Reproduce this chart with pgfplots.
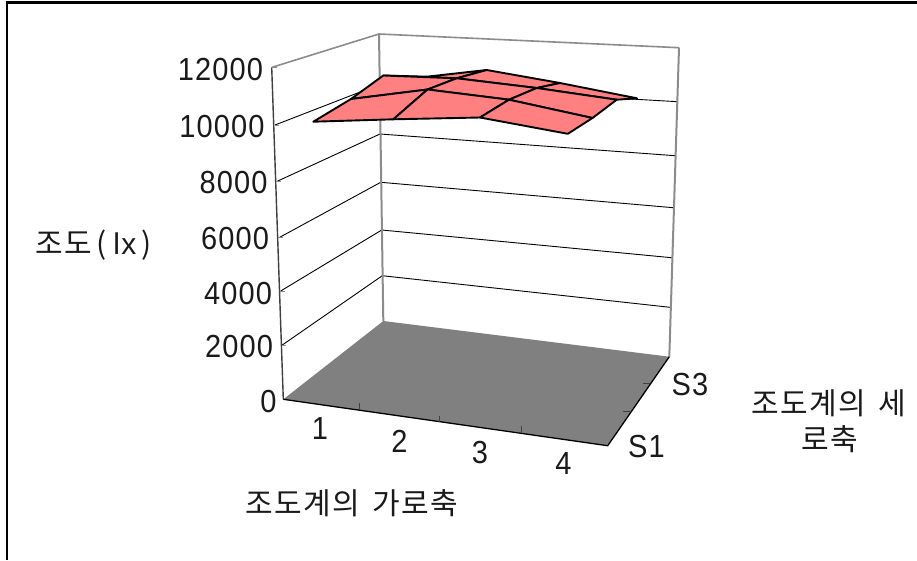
\documentclass[border=0pt]{standalone}
\usepackage{graphicx}
\usepackage{pgfplots}
\pgfplotsset{compat=1.18}
\usepackage{fontspec}
\setmainfont{Liberation Sans}
\newfontfamily\numfont[LetterSpace=4]{Liberation Sans}
\newfontfamily\krfont[LetterSpace=5]{Noto Sans CJK KR}
\newcommand{\tall}[1]{\scalebox{1}[1.1]{#1}}
\definecolor{surf}{HTML}{FF8080}
\definecolor{floorgray}{HTML}{808080}
\definecolor{wallgray}{HTML}{8C8C8C}
\definecolor{axisdark}{HTML}{404040}
\definecolor{inktext}{HTML}{1A1A1A}
\tikzset{
  num/.style={font=\fontsize{29}{29}\selectfont\numfont,text=inktext,inner sep=0pt,anchor=center},
  kr/.style={font=\fontsize{30}{30}\selectfont\krfont,text=inktext,inner sep=0pt,anchor=center},
}
\begin{document}
\begin{tikzpicture}
\begin{axis}[
  scale only axis, width=917pt, height=560pt,
  xmin=0, xmax=917, ymin=0, ymax=560, y dir=reverse,
  hide axis, clip=true,
]
% page and frame
\addplot[draw=none, fill=white] coordinates {(0,0) (917,0) (917,560) (0,560)} -- cycle;
\addplot[black, line width=2.4pt] coordinates {(7,560) (7,2.6) (917,2.6)};

% walls: grid lines on the side wall and on the back wall
\addplot[black, line width=0.9pt] coordinates {(275,125) (379.5,84.5) (677.7,101.7)};
\addplot[black, line width=0.9pt] coordinates {(276.7,181.5) (380,134) (675,155.7)};
\addplot[black, line width=0.9pt] coordinates {(279,237.7) (380.7,182.3) (673.3,207.7)};
\addplot[black, line width=0.9pt] coordinates {(280.7,291) (381.7,230) (671.7,257.7)};
\addplot[black, line width=0.9pt] coordinates {(282.3,345) (382.3,275.7) (670,307.3)};

% wall outline
\addplot[wallgray, line width=1.6pt] coordinates {(272,67.3) (379,34) (679,47.7)};
\addplot[wallgray, line width=2pt] coordinates {(379,34) (383.3,321)};
\addplot[wallgray, line width=2pt] coordinates {(679,47.7) (669.3,356.7)};

% floor
\addplot[fill=floorgray, draw=none] coordinates {(283.3,399.3) (607.7,445.7) (669.3,356.7) (383.3,321)} -- cycle;

% vertical axis and its ticks
\addplot[axisdark, line width=1.4pt] coordinates {(271.7,67.3) (283.3,399.3)};
\addplot[wallgray, line width=1.2pt] coordinates {(271.7,67.3) (277,67.3)};
\addplot[wallgray, line width=1pt] coordinates {(274.6,125) (279,125)};
\addplot[wallgray, line width=1pt] coordinates {(276.6,181.5) (281,181.5)};
\addplot[wallgray, line width=1pt] coordinates {(278.4,237.7) (283,237.7)};
\addplot[wallgray, line width=1pt] coordinates {(280.3,291) (285,291)};
\addplot[wallgray, line width=1pt] coordinates {(282,345) (286,345)};

% floor edges and their ticks
\addplot[black, line width=1.3pt] coordinates {(283.3,399.3) (607.7,445.7) (669.3,356.7)};
\addplot[axisdark, line width=0.9pt] coordinates {(359.3,403) (359.3,410)};
\addplot[axisdark, line width=0.9pt] coordinates {(439.3,415.7) (439.3,422)};
\addplot[axisdark, line width=0.9pt] coordinates {(521,425.7) (521,433)};
\addplot[axisdark, line width=0.9pt] coordinates {(643,383.3) (650,383.3)};
\addplot[axisdark, line width=0.9pt] coordinates {(623.3,411.7) (630,411.7)};

% surface, cells from back to front
\pgfplotsset{cell/.style={fill=surf, draw=black, line width=1.9pt, line join=round, line cap=round}}
\addplot[cell] coordinates {(383.3,75.5) (456.7,78.3) (486.7,70) (426.7,76.7)} -- cycle;
\addplot[cell] coordinates {(456.7,78.3) (536.7,88) (560,83) (486.7,70)} -- cycle;
\addplot[cell] coordinates {(536.7,88) (616.7,99.7) (637,98.3) (560,83)} -- cycle;
\addplot[cell] coordinates {(351,99) (427.5,89.5) (456.7,78.3) (383.3,75.5)} -- cycle;
\addplot[cell] coordinates {(427.5,89.5) (509,99.7) (536.7,88) (456.7,78.3)} -- cycle;
\addplot[cell] coordinates {(509,99.7) (592.5,118) (616.7,99.7) (536.7,88)} -- cycle;
\addplot[cell] coordinates {(313.3,121.7) (393.3,119.3) (427.5,89.5) (351,99)} -- cycle;
\addplot[cell] coordinates {(393.3,119.3) (480,117.5) (509,99.7) (427.5,89.5)} -- cycle;
\addplot[cell] coordinates {(480,117.5) (567.8,133.8) (592.5,118) (509,99.7)} -- cycle;

% vertical axis numbers
\node[num] at (axis cs:220.5,70) {\tall{12000}};
\node[num] at (axis cs:222,127) {\tall{10000}};
\node[num] at (axis cs:233.5,183) {\tall{8000}};
\node[num] at (axis cs:235,239) {\tall{6000}};
\node[num] at (axis cs:238,294) {\tall{4000}};
\node[num] at (axis cs:239,347) {\tall{2000}};
\node[num] at (axis cs:268.5,402) {\tall{0}};

% category labels
\node[num] at (axis cs:320,429) {\tall{1}};
\node[num] at (axis cs:399.5,441.7) {\tall{2}};
\node[num] at (axis cs:480,453) {\tall{3}};
\node[num] at (axis cs:563.5,464) {\tall{4}};
\node[num] at (axis cs:690,385) {\tall{S3}};
\node[num] at (axis cs:646.5,446.7) {\tall{S1}};

% axis titles
\node[kr] at (axis cs:93.5,245) {조도\hspace{4pt}(\hspace{7pt}{\numfont lx}\hspace{5pt})};
\node[kr] at (axis cs:829,403) {조도계의\hspace{4pt} 세};
\node[kr] at (axis cs:830,439) {로축};
\node[kr] at (axis cs:352,503) {조도계의\hspace{4pt} 가로축};
\end{axis}
\end{tikzpicture}
\end{document}
